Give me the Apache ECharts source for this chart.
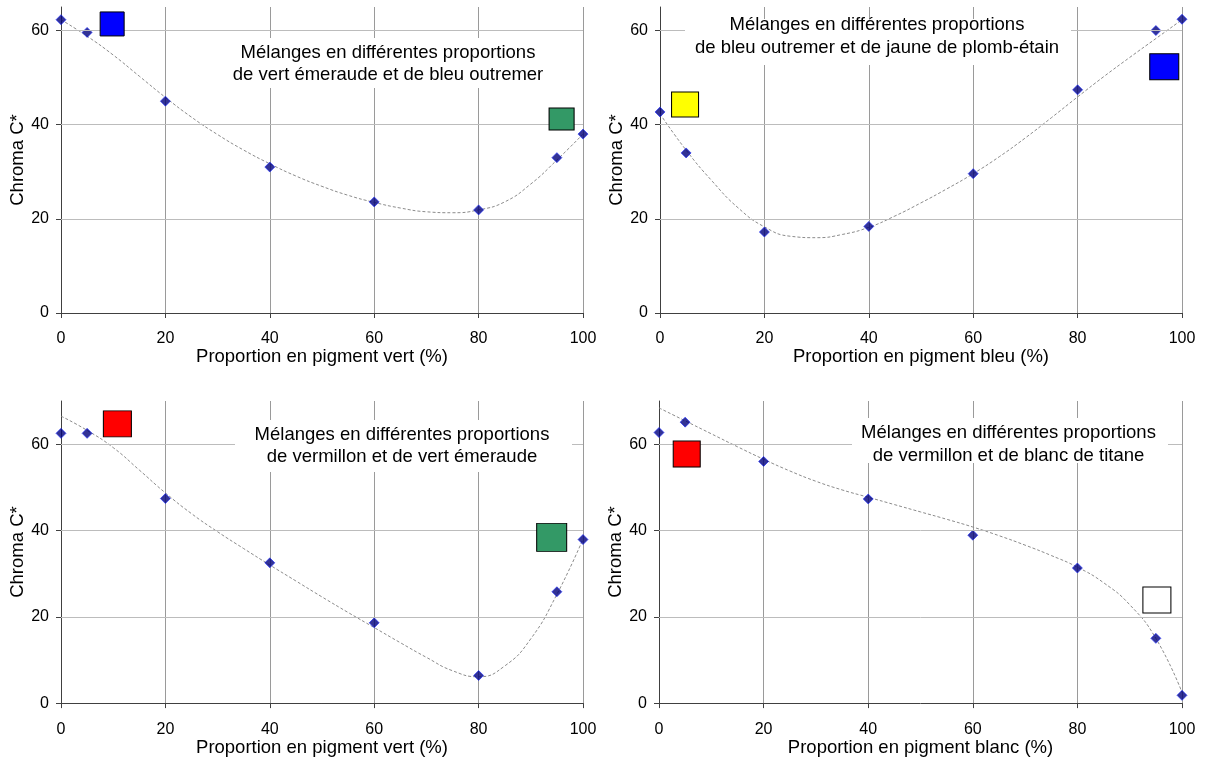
<!DOCTYPE html>
<html>
<head>
<meta charset="utf-8">
<script src="https://cdn.jsdelivr.net/npm/echarts@6/dist/echarts.min.js"></script>
<style>
  html, body { margin: 0; padding: 0; background: #fff; }
  #chart { width: 1205px; height: 758px; }
</style>
</head>
<body>
<div id="chart"></div>
<script>
// ---- Data ----
const proportions = [0, 5, 20, 40, 60, 80, 95, 100];

// Panel 1: vert émeraude + bleu outremer (x = % vert)
const chromaVertBleu = [62.3, 59.6, 45.0, 31.0, 23.6, 21.9, 33.0, 38.0];
// Panel 2: bleu outremer + jaune de plomb-étain (x = % bleu)
const chromaBleuJaune = [42.7, 34.0, 17.2, 18.4, 29.6, 47.4, 60.0, 62.4];
// Panel 3: vermillon + vert émeraude (x = % vert)
const chromaVermVert = [62.5, 62.5, 47.4, 32.5, 18.6, 6.4, 25.8, 37.9];
// Panel 4: vermillon + blanc de titane (x = % blanc)
const chromaVermBlanc = [62.7, 65.1, 56.0, 47.3, 38.9, 31.3, 15.0, 1.8];

// Trend curves (dashed), every 5 %
const trendX = [0, 5, 10, 15, 20, 25, 30, 35, 40, 45, 50, 55, 60, 65, 70, 75, 80, 85, 90, 95, 100];
const trendY1 = [62.3, 58.8, 54.8, 50.3, 45.8, 41.6, 37.9, 34.6, 31.7, 29.1, 26.9, 25.0, 23.5, 22.3, 21.5, 21.3, 21.9, 23.6, 27.4, 32.5, 38.0];
const trendY2 = [42.3, 34.6, 28.0, 22.3, 18.3, 16.3, 16.0, 16.7, 18.2, 20.6, 23.4, 26.4, 29.6, 33.2, 37.2, 41.5, 45.9, 50.2, 54.3, 58.3, 62.3];
const trendY3 = [66.5, 63.2, 59.2, 54.0, 48.7, 43.9, 39.7, 35.8, 32.0, 28.3, 24.6, 21.0, 17.5, 14.0, 10.6, 7.5, 6.1, 8.6, 14.9, 25.2, 38.0];
const trendY4 = [68.4, 65.4, 62.4, 59.4, 56.5, 53.8, 51.4, 49.4, 47.7, 46.0, 44.3, 42.6, 40.8, 38.8, 36.6, 34.2, 31.5, 27.9, 22.8, 15.0, 2.5];

const xTicks = [0, 20, 40, 60, 80, 100];
const yTicks = [0, 20, 40, 60];
const yGridValues = [20, 40, 60];
const yMaxTop = 65;
const yMaxBottom = 70;

const xNames = [
  'Proportion en pigment vert (%)',
  'Proportion en pigment bleu (%)',
  'Proportion en pigment vert (%)',
  'Proportion en pigment blanc (%)'
];
const yName = 'Chroma C*';
const captions = [
  'Mélanges en différentes proportions\nde vert émeraude et de bleu outremer',
  'Mélanges en différentes proportions\nde bleu outremer et de jaune de plomb-étain',
  'Mélanges en différentes proportions\nde vermillon et de vert émeraude',
  'Mélanges en différentes proportions\nde vermillon et de blanc de titane'
];

// ---- Layout / styling ----
const FONT = 'Liberation Sans, Arial, sans-serif';
const grids = [
  { left: 61, top: 7, width: 522, height: 306 },
  { left: 660, top: 7, width: 522, height: 306 },
  { left: 61, top: 401, width: 522, height: 303 },
  { left: 659, top: 401, width: 523, height: 305 }
];
const yMaxes = [yMaxTop, yMaxTop, yMaxBottom, yMaxBottom];
const seriesValues = [chromaVertBleu, chromaBleuJaune, chromaVermVert, chromaVermBlanc];
const trendValues = [trendY1, trendY2, trendY3, trendY4];

// Colour swatches (annotation squares), in data coordinates of each panel
const swatches = [
  [{ c: [9.8, 61.4], s: [24, 24], color: '#0000ff' }, { c: [95.9, 41.2], s: [25, 22], color: '#339966' }],
  [{ c: [4.8, 44.3], s: [27, 25], color: '#ffff00' }, { c: [96.6, 52.3], s: [29, 26], color: '#0000ff' }],
  [{ c: [10.8, 64.7], s: [28, 26], color: '#ff0000' }, { c: [94.0, 38.4], s: [30, 28], color: '#339966' }],
  [{ c: [5.3, 57.7], s: [27, 26], color: '#ff0000' }, { c: [95.2, 23.9], s: [28, 26], color: '#ffffff' }]
];

// Caption boxes (white background covering gridlines)
const captionBoxes = [
  { x: 228, y: 38, w: 322, h: 50, cx: 388, cy: 64 },
  { x: 685, y: 19, w: 386, h: 46, cx: 877, cy: 36.5 },
  { x: 235, y: 420, w: 337, h: 52, cx: 402, cy: 446 },
  { x: 852, y: 418, w: 316, h: 45, cx: 1008.5, cy: 444.3 }
];

const zip = (a, b) => a.map((v, i) => [v, b[i]]);

const xAxes = grids.map((g, i) => ({
  gridIndex: i,
  type: 'value',
  min: 0, max: 100, interval: 20,
  name: xNames[i],
  nameLocation: 'middle',
  nameGap: 29,
  nameTextStyle: { fontSize: 18.5, color: '#000', fontFamily: FONT },
  axisLine: { show: true, onZero: false, lineStyle: { color: '#404040', width: 1 } },
  axisTick: { show: true, length: 5, lineStyle: { color: '#404040' } },
  axisLabel: { fontSize: 16, color: '#000', margin: 18, fontFamily: FONT },
  splitLine: { show: true, lineStyle: { color: '#9a9a9a', width: 1 } }
}));

const yAxes = grids.map((g, i) => ({
  gridIndex: i,
  type: 'value',
  min: 0, max: yMaxes[i], interval: 20,
  name: yName,
  nameLocation: 'middle',
  nameGap: 30,
  nameRotate: 90,
  nameTextStyle: { fontSize: 18.5, color: '#000', fontFamily: FONT },
  axisLine: { show: true, onZero: false, lineStyle: { color: '#404040', width: 1 } },
  axisTick: { show: true, length: 5, lineStyle: { color: '#404040' }, customValues: yTicks },
  axisLabel: { fontSize: 16, color: '#000', margin: 12, fontFamily: FONT, customValues: yTicks },
  splitLine: { show: false }
}));

const series = [];
grids.forEach((g, i) => {
  // horizontal major gridlines
  series.push({
    type: 'line',
    xAxisIndex: i, yAxisIndex: i,
    data: [],
    silent: true,
    z: 1,
    markLine: {
      silent: true,
      symbol: ['none', 'none'],
      label: { show: false },
      lineStyle: { color: '#bcbcbc', width: 1, type: 'solid' },
      emphasis: { disabled: true },
      data: yGridValues.map(v => ({ yAxis: v }))
    }
  });
  series.push({
    type: 'line',
    xAxisIndex: i, yAxisIndex: i,
    data: zip(trendX, trendValues[i]),
    smooth: true,
    symbol: 'none',
    silent: true,
    lineStyle: { color: '#8c8c8c', width: 1, type: [3, 2] },
    z: 2
  });
  series.push({
    type: 'scatter',
    xAxisIndex: i, yAxisIndex: i,
    data: zip(proportions, seriesValues[i]),
    symbol: 'diamond',
    symbolSize: 10,
    itemStyle: { color: '#00007a', borderColor: '#1a2aff', borderWidth: 0.8 },
    z: 4,
    markPoint: {
      silent: true,
      label: { show: false },
      data: swatches[i].map(s => ({
        coord: s.c,
        symbol: 'rect',
        symbolSize: s.s,
        itemStyle: { color: s.color, borderColor: '#000', borderWidth: 1 }
      }))
    }
  });
});

const graphics = [];
captionBoxes.forEach((b, i) => {
  graphics.push({
    type: 'rect', z: 50, silent: true,
    shape: { x: b.x, y: b.y, width: b.w, height: b.h },
    style: { fill: '#ffffff' }
  });
  graphics.push({
    type: 'text', z: 51, silent: true,
    style: {
      text: captions[i], x: b.cx, y: b.cy,
      align: 'center', verticalAlign: 'middle',
      textAlign: 'center', textVerticalAlign: 'middle',
      fontSize: 18.5, fontFamily: FONT, lineHeight: 22.5, fill: '#000'
    }
  });
});

const chart = echarts.init(document.getElementById('chart'), null, { renderer: 'canvas' });
chart.setOption({
  animation: false,
  backgroundColor: '#ffffff',
  textStyle: { fontFamily: FONT },
  grid: grids,
  xAxis: xAxes,
  yAxis: yAxes,
  series: series,
  graphic: graphics
});
</script>
</body>
</html>
